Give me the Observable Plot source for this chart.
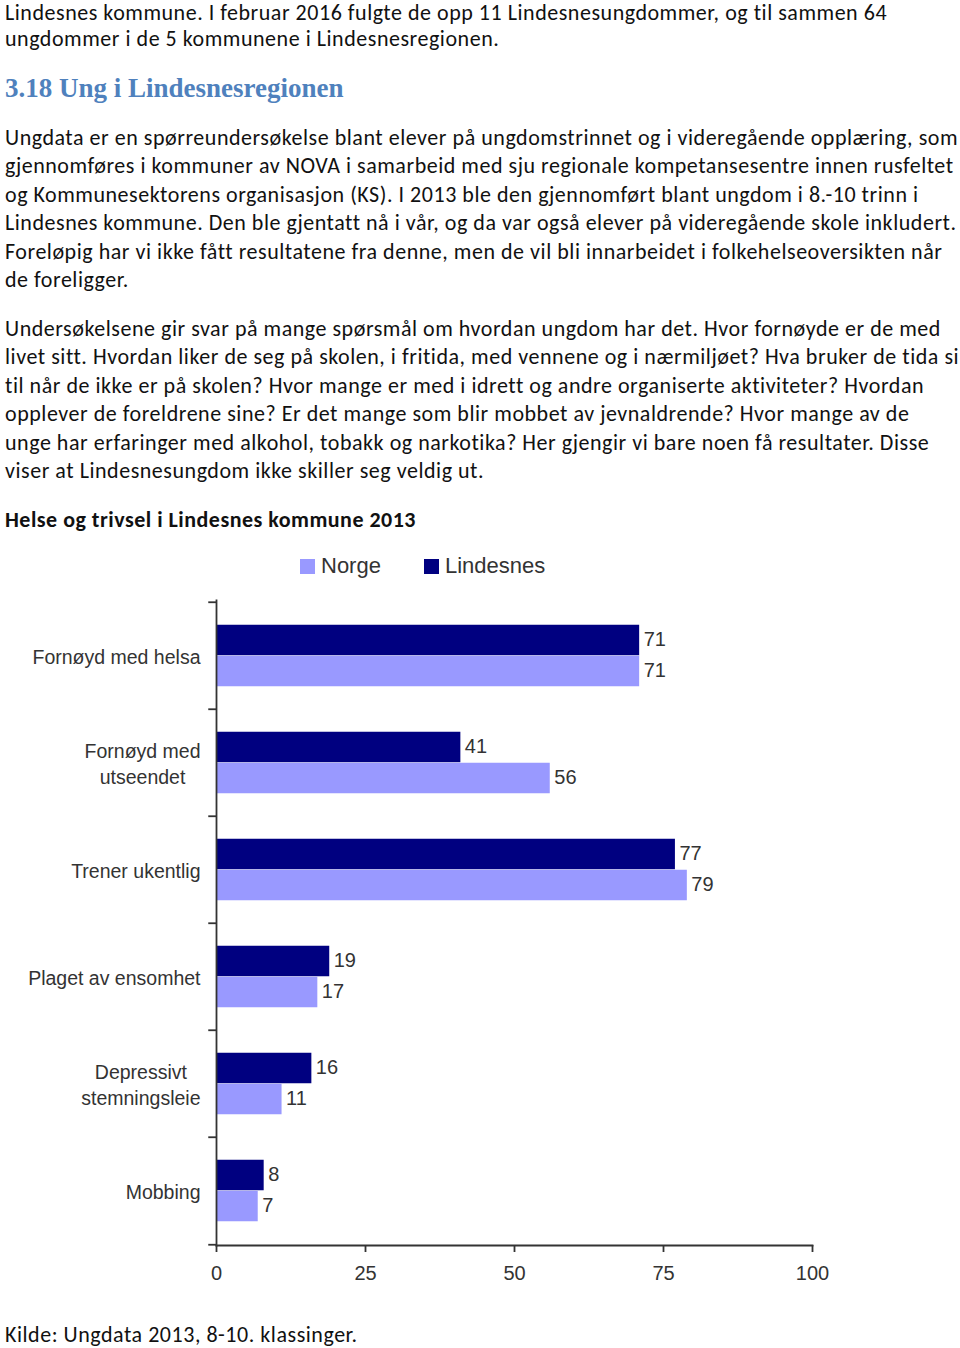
<!DOCTYPE html>
<html>
<head>
<meta charset="utf-8">
<script src="https://cdn.jsdelivr.net/npm/d3@7"></script>
<script src="https://cdn.jsdelivr.net/npm/@observablehq/plot@0.6"></script>
<style>
  html, body { margin: 0; padding: 0; background: #fff; }
  body { width: 960px; height: 1348px; position: relative; overflow: hidden; }
  .doc { position: absolute; left: 5px; font-family: Carlito, Lato, "Open Sans", sans-serif; font-size: 22px; line-height: 28.4px; color: #111; white-space: nowrap; }
  .h { position: absolute; left: 5px; font-family: "Liberation Serif", "DejaVu Serif", serif; font-weight: bold; font-size: 27px; color: #4F81BD; white-space: nowrap; }
  .title { font-weight: bold; }
  .legend { position: absolute; top: 553px; left: 0; width: 960px; height: 28px; font-family: "Liberation Sans", Arial, sans-serif; font-size: 22px; color: #333; }
  .legend span.sw { position: absolute; top: 6px; width: 15px; height: 15px; }
  .legend span.lb { position: absolute; top: 0; line-height: 26px; }
  #chart { position: absolute; left: 0; top: 590px; }
</style>
</head>
<body>
<div class="doc" style="top:0px; line-height:26px">Lindesnes kommune. I februar 2016 fulgte de opp 11 Lindesnesungdommer, og til sammen 64<br>ungdommer i de 5 kommunene i Lindesnesregionen.</div>
<div class="h" style="top:73px">3.18 Ung i Lindesnesregionen</div>
<div class="doc" style="top:124px"><span id="refline">Ungdata er en spørreundersøkelse blant elever på ungdomstrinnet og i videregående opplæring, som</span><br>gjennomføres i kommuner av NOVA i samarbeid med sju regionale kompetansesentre innen rusfeltet<br>og Kommunesektorens organisasjon (KS). I 2013 ble den gjennomført blant ungdom i 8.-10 trinn i<br>Lindesnes kommune. Den ble gjentatt nå i vår, og da var også elever på videregående skole inkludert.<br>Foreløpig har vi ikke fått resultatene fra denne, men de vil bli innarbeidet i folkehelseoversikten når<br>de foreligger.</div>
<div class="doc" style="top:315px">Undersøkelsene gir svar på mange spørsmål om hvordan ungdom har det. Hvor fornøyde er de med<br>livet sitt. Hvordan liker de seg på skolen, i fritida, med vennene og i nærmiljøet? Hva bruker de tida si<br>til når de ikke er på skolen? Hvor mange er med i idrett og andre organiserte aktiviteter? Hvordan<br>opplever de foreldrene sine? Er det mange som blir mobbet av jevnaldrende? Hvor mange av de<br>unge har erfaringer med alkohol, tobakk og narkotika? Her gjengir vi bare noen få resultater. Disse<br>viser at Lindesnesungdom ikke skiller seg veldig ut.</div>
<div class="doc title" style="top:506px"><span id="titleline">Helse og trivsel i Lindesnes kommune 2013</span></div>
<div class="legend" id="legend"></div>
<div id="chart"></div>
<div class="doc" style="top:1321px">Kilde: Ungdata 2013, 8-10. klassinger.</div>
<script>
// ---- data ----
const categories = ["Fornøyd med helsa", "Fornøyd med\nutseendet", "Trener ukentlig", "Plaget av ensomhet", "Depressivt\nstemningsleie", "Mobbing"];
const seriesNames = ["Norge", "Lindesnes"];
const lindesnes = [71, 41, 77, 19, 16, 8];
const norge = [71, 56, 79, 17, 11, 7];
const xTicks = [0, 25, 50, 75, 100];
const seriesColors = ["#9999FF", "#000080"];

// fit the body text to the width of the original page's lines
function fitSpacing() {
  const ref = document.getElementById("refline");
  const n = ref.textContent.length;
  const w = ref.getBoundingClientRect().width;
  const ls = (953 - w) / n;
  document.querySelectorAll(".doc:not(.title)").forEach(el => el.style.letterSpacing = ls + "px");
  const t = document.getElementById("titleline");
  const tw = t.getBoundingClientRect().width;
  t.parentNode.style.letterSpacing = ((411 - tw) / t.textContent.length) + "px";
}
fitSpacing();
if (document.fonts && document.fonts.ready) document.fonts.ready.then(() => {
  document.querySelectorAll(".doc").forEach(el => el.style.letterSpacing = "0px");
  fitSpacing();
});

const rows = [];
categories.forEach((c, i) => {
  rows.push({category: c, series: "Lindesnes", value: lindesnes[i]});
  rows.push({category: c, series: "Norge", value: norge[i]});
});
const lin = rows.filter(d => d.series === "Lindesnes");
const nor = rows.filter(d => d.series === "Norge");

// legend
const legend = document.getElementById("legend");
const legPos = [[300, 321], [424, 445]];
seriesNames.forEach((s, i) => {
  const sw = document.createElement("span");
  sw.className = "sw"; sw.style.left = legPos[i][0] + "px"; sw.style.background = seriesColors[i];
  const lb = document.createElement("span");
  lb.className = "lb"; lb.style.left = legPos[i][1] + "px"; lb.textContent = s;
  legend.appendChild(sw); legend.appendChild(lb);
});

const H = 700, W = 960, mTop = 10, mBottom = 45, mLeft = 216, mRight = 148;
const band = (H - mTop - mBottom) / categories.length;
const half = band / 2;
const barH = 31;
const ink = "#333";

const chart = Plot.plot({
  width: W, height: H,
  marginTop: mTop, marginBottom: mBottom, marginLeft: mLeft, marginRight: mRight,
  style: {fontFamily: "'Liberation Sans', Arial, sans-serif", fontSize: "20px", color: ink, background: "#fff"},
  x: {domain: [0, 100]},
  y: {domain: categories, padding: 0},
  color: {domain: seriesNames, range: seriesColors},
  marks: [
    Plot.barX(lin, {y: "category", x: "value", fill: "series", insetTop: half - barH, insetBottom: half}),
    Plot.barX(nor, {y: "category", x: "value", fill: "series", insetTop: half, insetBottom: half - barH}),
    Plot.text(lin, {y: "category", x: "value", text: d => String(d.value), textAnchor: "start", dx: 4, dy: -barH / 2 - 1, fill: ink, fontSize: 20}),
    Plot.text(nor, {y: "category", x: "value", text: d => String(d.value), textAnchor: "start", dx: 4, dy: barH / 2 - 1, fill: ink, fontSize: 20}),
    Plot.frame({anchor: "left", stroke: ink, strokeWidth: 1.8}),
    Plot.frame({anchor: "bottom", stroke: ink, strokeWidth: 1.8}),
    Plot.ruleY(categories, {y: d => d, x1: -1.3, x2: 0, dy: -half, stroke: ink, strokeWidth: 1.8}),
    Plot.ruleY([categories[categories.length - 1]], {y: d => d, x1: -1.3, x2: 0, dy: half, stroke: ink, strokeWidth: 1.8}),
    Plot.axisY({tickSize: 0, tickPadding: 16, lineHeight: 1.3, fill: ink, fontSize: 19.5, label: null}),
    Plot.axisX({ticks: xTicks, tickSize: 7, tickPadding: 13, stroke: ink, strokeWidth: 1.8, fill: ink, fontSize: 20, label: null})
  ]
});
document.getElementById("chart").appendChild(chart);

// centre the lines of multi-line category labels within their right-aligned block
chart.querySelectorAll("text").forEach(t => {
  const spans = t.querySelectorAll("tspan");
  if (spans.length > 1) {
    let w = 0;
    spans.forEach(s => { w = Math.max(w, s.getComputedTextLength()); });
    t.setAttribute("text-anchor", "middle");
    spans.forEach(s => s.setAttribute("x", -w / 2));
  }
});
</script>
</body>
</html>
